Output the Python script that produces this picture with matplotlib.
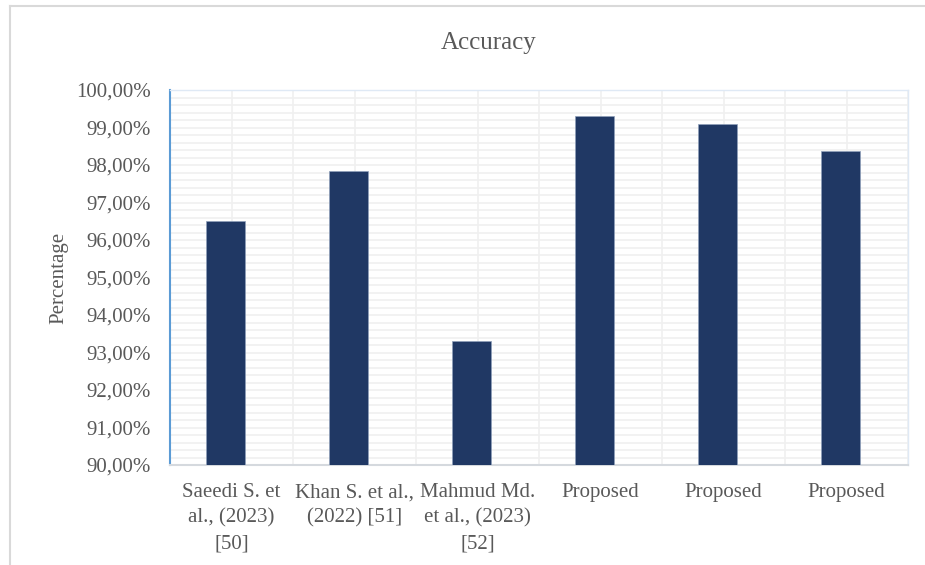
import numpy as np
import matplotlib
matplotlib.use("Agg")
import matplotlib.pyplot as plt
from matplotlib.lines import Line2D
from matplotlib.ticker import FuncFormatter, MultipleLocator

plt.rcParams["font.family"] = ["Liberation Serif", "DejaVu Serif"]

# Accuracy reported by each study (in percent)
studies = [
    "Saeedi S. et\nal., (2023)\n[50]",
    "Khan S. et al.,\n(2022) [51]",
    "Mahmud Md.\net al., (2023)\n[52]",
    "Proposed",
    "Proposed",
    "Proposed",
]
accuracy = [96.50, 97.83, 93.31, 99.31, 99.09, 98.38]

text_color = "#595959"
bar_color = "#203864"
grid_color = "#f0f0f0"


def main():
    fig = plt.figure(figsize=(9.25, 5.65), dpi=100)
    ax = fig.add_axes([170 / 925, 1 - 465 / 565, 738 / 925, 375 / 565])

    x = np.arange(len(studies))
    ax.bar(x - 0.05, np.array(accuracy) - 90, bottom=90, width=0.316,
           color=bar_color, edgecolor="#8fa0bb", linewidth=0.5, zorder=3)

    ax.set_xlim(-0.5, len(studies) - 0.5)
    ax.set_ylim(90, 100)

    # major and minor grid, both light grey
    ax.yaxis.set_major_locator(MultipleLocator(1))
    ax.yaxis.set_minor_locator(MultipleLocator(0.2))
    ax.xaxis.set_minor_locator(MultipleLocator(0.5))
    ax.grid(which="both", axis="both", color=grid_color, linewidth=1.2,
            zorder=0)
    ax.set_axisbelow(True)

    ax.set_xticks(x)
    ax.set_xticklabels(studies, linespacing=1.45)
    ax.yaxis.set_major_formatter(
        FuncFormatter(lambda v, _: f"{v:.2f}".replace(".", ",") + "%"))
    ax.tick_params(axis="y", which="both", length=0, pad=14,
                   labelsize=15, labelcolor=text_color)
    ax.tick_params(axis="x", which="both", length=0, pad=13,
                   labelsize=15, labelcolor=text_color)

    ax.spines["left"].set_color("#5b9bd5")
    ax.spines["left"].set_linewidth(1.5)
    ax.spines["bottom"].set_color("#d5d9de")
    ax.spines["bottom"].set_linewidth(1.5)
    for side in ("top", "right"):
        ax.spines[side].set_color("#dfe9f5")
        ax.spines[side].set_linewidth(1.0)

    ax.set_ylabel("Percentage", fontsize=15, color=text_color, labelpad=5)
    fig.text(489 / 925, 1 - 43 / 565, "Accuracy", fontsize=18,
             color=text_color, ha="center", va="center")

    # chart frame (left and top edges are inside the picture)
    fx, fy = 10 / 925, 1 - 6 / 565
    fig.add_artist(Line2D([fx, fx], [0, fy], color="#d9d9d9", lw=1.5))
    fig.add_artist(Line2D([fx, 1], [fy, fy], color="#d9d9d9", lw=1.5))

    fig.savefig("out.png", dpi=100)


if __name__ == "__main__":
    main()
